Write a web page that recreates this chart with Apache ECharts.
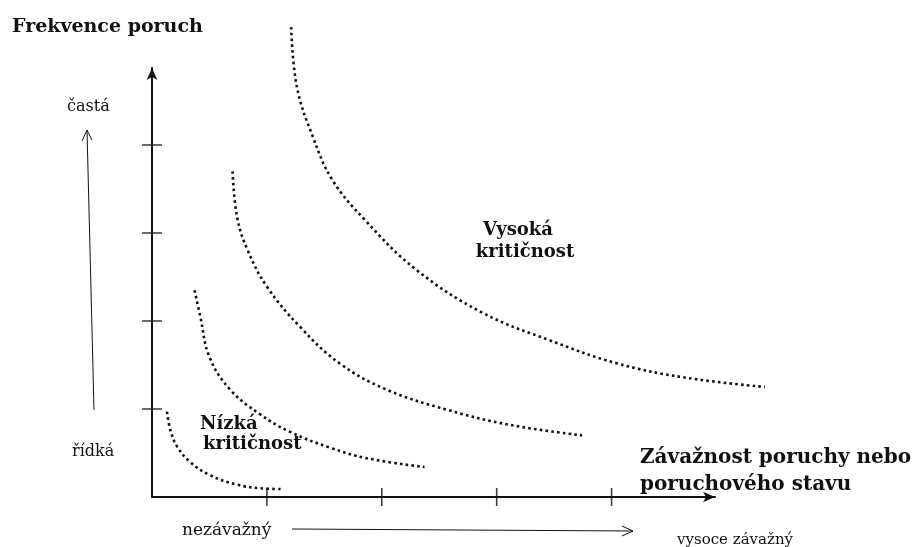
<!DOCTYPE html>
<html>
<head>
<meta charset="utf-8">
<script src="https://cdn.jsdelivr.net/npm/echarts@6/dist/echarts.min.js"></script>
<style>
    html, body { margin: 0; padding: 0; background: #fff; }
    #main { width: 923px; height: 547px; }
</style>
</head>
<body>
<div id="main"></div>
<script>
// hodnoty (osa x: závažnost, osa y: frekvence)
var curve1X = [0.13, 0.16, 0.22, 0.33, 0.50, 0.74, 0.94, 1.14]
var curve1Y = [0.97, 0.76, 0.57, 0.40, 0.25, 0.14, 0.10, 0.09]
var curve2X = [0.37, 0.42, 0.50, 0.68, 0.94, 1.20, 1.55, 1.87, 2.37]
var curve2Y = [2.35, 2.05, 1.59, 1.22, 0.94, 0.74, 0.56, 0.44, 0.34]
var curve3X = [0.70, 0.74, 0.83, 1.00, 1.29, 1.63, 2.04, 2.57, 3.11, 3.74]
var curve3Y = [3.70, 3.18, 2.81, 2.39, 1.93, 1.52, 1.22, 0.99, 0.82, 0.70]
var curve4X = [1.21, 1.26, 1.40, 1.57, 1.85, 2.30, 2.88, 3.46, 4.04, 4.62, 5.33]
var curve4Y = [5.34, 4.66, 4.09, 3.60, 3.15, 2.58, 2.09, 1.78, 1.52, 1.36, 1.25]
var xTicks = [1, 2, 3, 4]
var yTicks = [1, 2, 3, 4]

var ink = '#111'
var boldFont = 'bold 18px "DejaVu Serif"'
var plainFont = '16px "DejaVu Serif"'

// jednotka osy x = 115 px, osy y = 88 px
var unitX = 115

function pairs(xs, ys) {
    return xs.map(function (x, i) { return [x, ys[i]] })
}

function curve(xs, ys) {
    return {
        type: 'line',
        xAxisIndex: 1, yAxisIndex: 1,
        data: pairs(xs, ys),
        smooth: 0.4,
        symbol: 'none',
        clip: false,
        silent: true,
        lineStyle: { color: ink, width: 2.6, type: [2.6, 3.2] }
    }
}

function label(text, x, y, font, align) {
    return {
        type: 'text',
        style: {
            text: text, x: x, y: y, font: font, fill: ink,
            textAlign: align || 'left', textVerticalAlign: 'middle'
        }
    }
}

var hiddenAxis = {
    axisLine: { show: false }, axisTick: { show: false },
    axisLabel: { show: false }, splitLine: { show: false }
}

var myChart = echarts.init(document.getElementById('main'))

var option = {
    animation: false,
    backgroundColor: '#fff',
    grid: [
        { left: 152, right: 208, top: 68, bottom: 50 },
        // širší mřížka se stejným měřítkem, aby křivky mohly přesahovat šipku osy
        { left: 152, width: 5.4 * unitX, top: 68, bottom: 50 }
    ],
    xAxis: [
        {
            type: 'value', min: 0, max: 4.9, gridIndex: 0,
            axisLine: { show: true, symbol: ['none', 'arrow'], symbolSize: [8, 12],
                lineStyle: { color: ink, width: 2 } },
            axisTick: { show: false }, axisLabel: { show: false }, splitLine: { show: false }
        },
        Object.assign({ type: 'value', min: 0, max: 5.4, gridIndex: 1 }, hiddenAxis)
    ],
    yAxis: [
        {
            type: 'value', min: 0, max: 4.875, gridIndex: 0,
            axisLine: { show: true, symbol: ['none', 'arrow'], symbolSize: [8, 12],
                lineStyle: { color: ink, width: 2 } },
            axisTick: { show: false }, axisLabel: { show: false }, splitLine: { show: false }
        },
        Object.assign({ type: 'value', min: 0, max: 4.875, gridIndex: 1 }, hiddenAxis)
    ],
    series: [
        curve(curve1X, curve1Y),
        curve(curve2X, curve2Y),
        curve(curve3X, curve3Y),
        curve(curve4X, curve4Y),
        {
            // značky na ose x
            type: 'scatter', silent: true, clip: false,
            data: xTicks.map(function (v) { return [v, 0] }),
            symbol: 'rect', symbolSize: [1.6, 18],
            itemStyle: { color: ink }
        },
        {
            // značky na ose y
            type: 'scatter', silent: true, clip: false,
            data: yTicks.map(function (v) { return [0, v] }),
            symbol: 'rect', symbolSize: [20, 1.6],
            itemStyle: { color: ink }
        }
    ],
    graphic: [
        label('Frekvence poruch', 12, 27, 'bold 19px "DejaVu Serif"'),
        label('častá', 67, 107, plainFont),
        label('řídká', 72, 452, plainFont),
        label('Nízká', 200, 424, boldFont),
        label('kritičnost', 203, 444, boldFont),
        label('Vysoká', 518, 230, boldFont, 'center'),
        label('kritičnost', 525, 252, boldFont, 'center'),
        label('Závažnost poruchy nebo', 640, 458, 'bold 20px "DejaVu Serif"'),
        label('poruchového stavu', 640, 485, 'bold 20px "DejaVu Serif"'),
        label('nezávažný', 182, 531, '17px "DejaVu Serif"'),
        label('vysoce závažný', 677, 540, '15px "DejaVu Serif"'),
        // šipka častá / řídká
        { type: 'polyline', shape: { points: [[94, 410], [87, 130]] },
          style: { stroke: ink, lineWidth: 1, fill: null } },
        { type: 'polyline', shape: { points: [[82, 141], [87, 130], [92, 140]] },
          style: { stroke: ink, lineWidth: 1, fill: null } },
        // šipka nezávažný -> vysoce závažný
        { type: 'polyline', shape: { points: [[292, 529], [633, 531]] },
          style: { stroke: ink, lineWidth: 1, fill: null } },
        { type: 'polyline', shape: { points: [[622, 526], [633, 531], [622, 536]] },
          style: { stroke: ink, lineWidth: 1, fill: null } }
    ]
}

myChart.setOption(option)
</script>
</body>
</html>
